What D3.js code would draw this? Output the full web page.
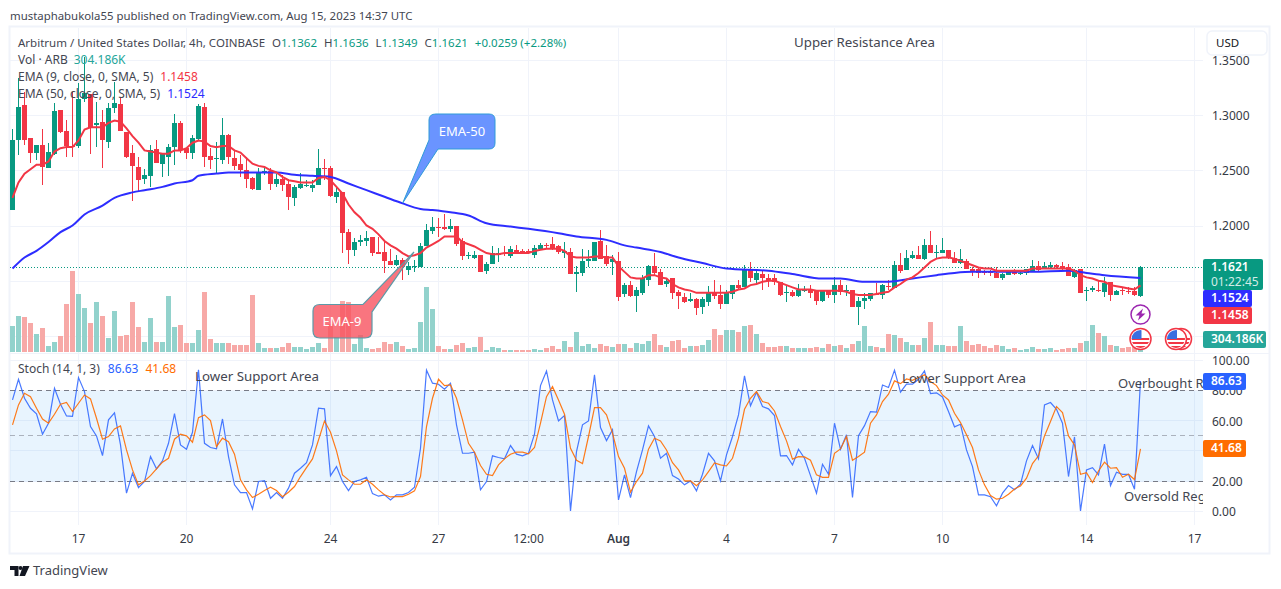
<!DOCTYPE html>
<html>
<head>
<meta charset="utf-8">
<script src="https://cdnjs.cloudflare.com/ajax/libs/d3/7.8.5/d3.min.js"></script>
<style>
  html, body { margin: 0; padding: 0; background: #fff; }
  svg { display: block; }
  text { font-family: "Noto Sans", sans-serif; font-size: 12px; fill: #434651; }
  .axis path, .axis line { display: none; }
  .axis text { fill: #363a45; font-size: 12px; }
</style>
</head>
<body>
<div id="chart"></div>
<script>
// candles, one entry per 4h bar
var open = [
  1.214,1.277,1.309,1.279,1.266,1.273,1.252,1.265,1.305,1.286,
  1.272,1.272,1.315,1.319,1.291,1.294,1.276,1.306,1.310,1.285,
  1.266,1.253,1.242,1.245,1.269,1.256,1.262,1.271,1.293,1.270,
  1.266,1.278,1.307,1.263,1.260,1.259,1.282,1.261,1.256,1.250,
  1.243,1.232,1.248,1.249,1.238,1.242,1.238,1.225,1.234,1.236,
  1.234,1.237,1.252,1.252,1.226,1.230,1.194,1.178,1.185,1.186,
  1.190,1.176,1.176,1.168,1.164,1.169,1.160,1.162,1.162,1.181,
  1.195,1.199,1.199,1.197,1.200,1.186,1.172,1.171,1.173,1.159,
  1.165,1.173,1.175,1.172,1.178,1.177,1.177,1.173,1.179,1.182,
  1.183,1.181,1.175,1.176,1.156,1.157,1.168,1.168,1.186,1.172,
  1.167,1.168,1.138,1.146,1.136,1.139,1.151,1.163,1.158,1.147,
  1.152,1.140,1.135,1.132,1.133,1.126,1.131,1.140,1.137,1.129,
  1.138,1.146,1.144,1.160,1.151,1.156,1.152,1.152,1.149,1.139,
  1.140,1.136,1.141,1.142,1.141,1.132,1.141,1.137,1.146,1.141,
  1.142,1.126,1.132,1.133,1.138,1.137,1.145,1.143,1.164,1.160,
  1.171,1.173,1.170,1.182,1.175,1.175,1.178,1.171,1.166,1.168,
  1.161,1.161,1.158,1.158,1.157,1.152,1.155,1.159,1.156,1.157,
  1.159,1.163,1.161,1.162,1.164,1.163,1.162,1.153,1.161,1.141,
  1.142,1.142,1.140,1.149,1.137,1.142,1.141,1.141,1.1362];
var high = [
  1.287,1.334,1.321,1.279,1.273,1.287,1.275,1.311,1.305,1.296,
  1.321,1.329,1.353,1.319,1.312,1.305,1.311,1.330,1.316,1.285,
  1.273,1.262,1.251,1.273,1.277,1.265,1.274,1.301,1.295,1.270,
  1.282,1.310,1.311,1.270,1.276,1.297,1.283,1.268,1.264,1.262,
  1.244,1.252,1.253,1.252,1.247,1.246,1.242,1.237,1.248,1.241,
  1.241,1.269,1.260,1.254,1.234,1.230,1.197,1.189,1.191,1.195,
  1.190,1.190,1.187,1.179,1.173,1.171,1.167,1.169,1.184,1.201,
  1.208,1.207,1.210,1.206,1.200,1.189,1.176,1.177,1.173,1.167,
  1.181,1.180,1.181,1.181,1.182,1.179,1.179,1.182,1.184,1.184,
  1.190,1.182,1.185,1.180,1.163,1.179,1.178,1.185,1.196,1.182,
  1.173,1.176,1.148,1.150,1.144,1.155,1.164,1.175,1.161,1.152,
  1.152,1.142,1.139,1.139,1.134,1.135,1.145,1.151,1.146,1.142,
  1.146,1.151,1.164,1.167,1.159,1.160,1.156,1.156,1.149,1.146,
  1.142,1.147,1.145,1.146,1.142,1.142,1.142,1.153,1.151,1.146,
  1.142,1.135,1.139,1.139,1.148,1.147,1.151,1.168,1.175,1.178,
  1.177,1.181,1.188,1.195,1.182,1.189,1.178,1.176,1.179,1.170,
  1.162,1.162,1.160,1.160,1.162,1.157,1.159,1.161,1.159,1.161,
  1.169,1.168,1.167,1.167,1.165,1.167,1.165,1.161,1.161,1.144,
  1.145,1.150,1.153,1.149,1.142,1.144,1.144,1.144,1.1636];
var low = [
  1.214,1.264,1.273,1.257,1.259,1.237,1.252,1.264,1.284,1.262,
  1.262,1.270,1.312,1.265,1.271,1.252,1.270,1.302,1.286,1.261,
  1.222,1.230,1.238,1.235,1.257,1.244,1.245,1.255,1.266,1.260,
  1.260,1.277,1.253,1.251,1.248,1.256,1.256,1.250,1.244,1.234,
  1.232,1.232,1.246,1.232,1.235,1.231,1.214,1.218,1.233,1.235,
  1.230,1.237,1.241,1.226,1.220,1.175,1.165,1.172,1.181,1.181,
  1.172,1.174,1.157,1.164,1.163,1.151,1.155,1.158,1.162,1.181,
  1.192,1.190,1.196,1.194,1.181,1.169,1.170,1.170,1.158,1.156,
  1.165,1.167,1.172,1.171,1.175,1.174,1.174,1.171,1.178,1.179,
  1.178,1.174,1.171,1.156,1.140,1.154,1.162,1.168,1.170,1.163,
  1.155,1.132,1.135,1.135,1.122,1.137,1.145,1.155,1.146,1.144,
  1.133,1.124,1.130,1.131,1.119,1.120,1.127,1.133,1.124,1.129,
  1.133,1.142,1.144,1.149,1.147,1.142,1.144,1.146,1.136,1.131,
  1.135,1.135,1.140,1.134,1.128,1.131,1.134,1.130,1.137,1.136,
  1.126,1.110,1.124,1.132,1.137,1.133,1.142,1.143,1.157,1.160,
  1.170,1.170,1.169,1.175,1.171,1.175,1.170,1.166,1.165,1.161,
  1.154,1.152,1.155,1.154,1.152,1.151,1.155,1.155,1.155,1.155,
  1.159,1.159,1.161,1.161,1.161,1.159,1.154,1.152,1.139,1.132,
  1.140,1.140,1.135,1.132,1.137,1.137,1.138,1.136,1.1349];
var close = [
  1.277,1.307,1.277,1.266,1.273,1.253,1.267,1.304,1.285,1.272,
  1.271,1.315,1.320,1.289,1.293,1.277,1.306,1.311,1.286,1.262,
  1.254,1.241,1.246,1.268,1.257,1.265,1.271,1.293,1.268,1.266,
  1.279,1.308,1.262,1.259,1.261,1.282,1.262,1.254,1.250,1.242,
  1.233,1.248,1.249,1.238,1.242,1.237,1.226,1.235,1.238,1.237,
  1.237,1.252,1.251,1.227,1.230,1.193,1.178,1.185,1.187,1.189,
  1.175,1.174,1.168,1.164,1.169,1.162,1.163,1.163,1.181,1.196,
  1.199,1.198,1.197,1.200,1.183,1.172,1.173,1.173,1.158,1.165,
  1.175,1.175,1.174,1.179,1.175,1.175,1.175,1.180,1.182,1.181,
  1.179,1.176,1.177,1.156,1.158,1.168,1.170,1.185,1.170,1.165,
  1.170,1.135,1.146,1.136,1.142,1.152,1.163,1.157,1.146,1.150,
  1.139,1.136,1.131,1.133,1.125,1.133,1.140,1.136,1.129,1.139,
  1.146,1.143,1.161,1.152,1.157,1.152,1.150,1.149,1.137,1.140,
  1.136,1.142,1.142,1.139,1.132,1.141,1.137,1.146,1.140,1.142,
  1.126,1.132,1.134,1.139,1.137,1.146,1.144,1.164,1.159,1.171,
  1.173,1.170,1.182,1.175,1.176,1.178,1.171,1.166,1.170,1.161,
  1.159,1.157,1.157,1.157,1.152,1.156,1.159,1.156,1.157,1.161,
  1.163,1.160,1.163,1.164,1.162,1.161,1.154,1.160,1.139,1.142,
  1.143,1.141,1.148,1.137,1.141,1.141,1.140,1.137,1.1621];

// volume in thousands
var volume = [
  608,842,819,679,421,562,140,234,374,1123,
  1895,1357,1030,679,1170,842,328,959,374,398,
  1170,585,234,796,234,234,1310,585,632,211,
  211,515,1404,304,211,211,211,164,164,164,
  1334,211,94,94,94,117,211,117,117,70,
  117,211,94,655,351,1193,1170,187,398,94,
  70,94,234,187,234,140,70,94,702,1521,
  1006,140,70,70,164,211,94,117,351,47,
  117,94,47,47,47,47,47,70,47,94,
  140,70,257,117,468,140,187,94,187,140,
  117,187,187,94,211,187,257,421,164,117,
  257,281,94,140,140,164,281,538,398,515,
  515,468,608,632,421,211,117,117,140,140,
  94,94,94,94,117,94,187,140,164,94,
  187,257,608,140,117,94,421,398,328,234,
  164,164,328,702,164,164,140,140,608,257,
  164,187,140,94,164,140,70,94,47,70,
  117,70,70,94,47,70,94,94,211,257,
  632,445,374,164,140,94,117,140,304.186];

var ema9 = [
  1.225,1.239,1.247,1.251,1.255,1.255,1.258,1.267,1.270,1.271,
  1.271,1.277,1.287,1.289,1.289,1.289,1.293,1.295,1.294,1.288,
  1.281,1.275,1.268,1.267,1.266,1.265,1.265,1.268,1.268,1.270,
  1.275,1.277,1.276,1.272,1.271,1.272,1.272,1.268,1.266,1.261,
  1.256,1.254,1.253,1.250,1.248,1.244,1.241,1.240,1.239,1.239,
  1.239,1.243,1.244,1.241,1.235,1.229,1.219,1.212,1.207,1.200,
  1.197,1.192,1.186,1.182,1.179,1.175,1.172,1.173,1.175,1.180,
  1.183,1.186,1.190,1.190,1.190,1.185,1.183,1.181,1.178,1.175,
  1.174,1.174,1.175,1.175,1.175,1.175,1.175,1.177,1.178,1.179,
  1.179,1.179,1.177,1.172,1.171,1.171,1.171,1.172,1.172,1.171,
  1.171,1.163,1.158,1.153,1.152,1.152,1.155,1.155,1.153,1.152,
  1.147,1.144,1.142,1.141,1.139,1.139,1.139,1.139,1.139,1.139,
  1.140,1.142,1.143,1.146,1.147,1.149,1.150,1.150,1.148,1.146,
  1.144,1.142,1.142,1.142,1.141,1.141,1.141,1.141,1.141,1.140,
  1.138,1.137,1.137,1.137,1.138,1.139,1.140,1.144,1.147,1.151,
  1.153,1.157,1.162,1.167,1.170,1.171,1.171,1.170,1.168,1.166,
  1.164,1.162,1.161,1.161,1.159,1.159,1.159,1.159,1.159,1.159,
  1.161,1.161,1.161,1.161,1.161,1.161,1.161,1.159,1.155,1.153,
  1.152,1.150,1.149,1.146,1.145,1.144,1.143,1.142,1.1458];

// the slow EMA is smooth, read at these bars only
var ema50Bars = [0,2,4,6,8,10,12,15,17,20,22,25,27,30,31,34,36,40,44,47,50,53,56,59,62,65,68,70,73,76,79,83,86,91,94,99,102,104,108,111,115,119,126,130,135,138,142,146,150,154,157,160,170,176,179,182,188];
var ema50 = [1.161,1.171,1.177,1.185,1.194,1.200,1.210,1.218,1.225,1.230,1.232,1.235,1.238,1.241,1.245,1.247,1.248,1.248,1.248,1.246,1.245,1.244,1.238,1.232,1.226,1.220,1.215,1.214,1.212,1.209,1.202,1.199,1.197,1.193,1.190,1.187,1.182,1.180,1.176,1.171,1.166,1.161,1.159,1.156,1.152,1.152,1.149,1.149,1.152,1.155,1.157,1.158,1.158,1.159,1.157,1.155,1.1524];

var stochK = [
  74.1,87.8,75.2,68.6,64.9,51.4,58.7,81.8,71.3,63.5,
  63.3,88.9,79.6,56.5,50.3,37.3,60.9,65.5,44.3,12.4,
  25.6,16.1,20.1,36.6,28.5,33.8,45.4,65.1,44.3,41.5,
  52.7,94.0,45.4,42.6,41.7,61.5,36.6,17.9,12.8,12.8,
  2.0,20.1,20.7,9.0,12.8,9.0,15.7,25.6,28.9,32.6,
  44.3,68.6,68.2,24.0,30.0,20.1,14.1,20.1,21.2,22.9,
  12.1,10.4,11.3,7.9,11.3,11.3,12.8,16.3,42.1,93.8,
  85.2,84.5,81.2,85.2,57.6,38.8,38.8,39.5,14.6,20.1,
  37.1,36.0,35.1,43.9,38.2,37.1,38.8,51.4,83.6,93.3,
  74.1,60.2,63.8,0.7,39.9,57.6,60.2,90.7,55.8,47.2,
  54.3,7.9,24.5,9.5,26.7,41.0,56.9,49.9,35.5,38.8,
  24.0,21.8,17.9,20.5,13.9,24.9,38.8,33.8,20.5,37.7,
  49.9,64.2,90.0,70.2,79.2,69.7,68.2,63.8,37.1,37.3,
  31.1,41.5,35.5,24.0,12.4,31.5,24.9,58.7,41.5,51.0,
  9.5,50.5,57.1,66.4,66.0,84.0,82.3,93.8,79.2,84.5,
  84.5,87.8,93.3,78.3,78.8,76.1,66.4,56.3,58.0,41.0,
  30.0,11.3,11.3,10.1,4.0,12.4,17.4,14.6,18.3,33.8,
  43.9,35.1,70.8,72.4,67.9,58.7,23.4,49.6,0.7,27.8,
  29.3,24.5,44.8,17.4,26.3,24.9,24.9,15.0,86.63];
var stochD = [
  57.6,70.8,78.5,76.3,68.6,61.5,58.7,64.6,71.3,72.4,
  66.4,71.9,77.4,74.8,62.0,48.1,49.9,54.9,56.9,41.0,
  27.8,17.9,20.5,24.0,28.5,32.9,35.5,48.1,51.4,50.3,
  46.1,62.4,64.2,60.4,43.2,48.8,46.5,38.2,21.2,14.6,
  9.5,11.7,14.1,16.3,14.1,10.1,13.0,16.8,23.4,29.3,
  35.1,47.6,60.2,52.7,40.4,24.5,21.2,18.3,18.3,21.2,
  18.3,14.6,11.3,9.9,10.1,10.1,11.7,13.9,23.4,56.5,
  75.2,87.8,83.6,84.0,75.2,60.9,45.4,39.5,30.7,24.9,
  24.0,31.1,35.1,38.2,39.5,39.5,38.4,42.6,58.7,76.3,
  82.9,74.1,64.6,42.1,34.2,32.0,49.9,69.0,69.0,64.2,
  52.1,36.6,28.9,13.0,20.1,25.6,41.5,48.8,47.0,41.0,
  32.6,27.8,20.5,20.5,17.4,21.2,26.7,32.4,31.1,30.4,
  35.5,48.8,67.9,75.2,79.6,73.0,71.9,66.8,56.5,47.0,
  34.9,36.6,36.4,34.2,24.5,22.9,22.9,38.8,41.7,49.9,
  34.2,36.6,39.5,58.7,64.2,73.0,77.9,86.7,84.9,88.0,
  87.1,88.9,90.7,86.3,83.6,77.4,74.1,65.3,59.1,51.0,
  42.6,27.8,17.9,10.8,8.4,9.0,11.7,15.2,17.2,22.3,
  32.0,37.1,50.3,59.8,69.7,65.7,50.3,44.3,24.9,26.0,
  19.4,27.1,32.9,28.9,29.3,22.9,24.9,21.4,41.68];

// bar index of each time label
var timeBars = [11,29,53,71,86,101,119,137,155,179,197];
var timeLabels = ["17","20","24","27","12:00","Aug","4","7","10","14","17"];

// grid lines; the 1.15, 1.10 and 40 labels sit behind the value tags so they are not written
var priceGrid = [1.35,1.30,1.25,1.20,1.15,1.10];
var priceLabels = [1.35,1.30,1.25,1.20];
var stochGrid = [100,80,60,40,20,0];
var stochLabels = [100,80,60,20,0];

var GREEN = "#089981", RED = "#f23645", BLUE = "#2d2dff";
var W = 1281, H = 589;
var paneL = 10, paneR = 1203;

var svg = d3.select("#chart").append("svg").attr("width", W).attr("height", H);

// scales
var x = d3.scaleLinear().domain([0, 188]).range([12.5, 1140.5]);
var y = d3.scaleLinear().domain([1.10, 1.35]).range([335.9, 59.9]);
var yVol = d3.scaleLinear().domain([0, 2340]).range([352, 252]);
var yStoch = d3.scaleLinear().domain([0, 100]).range([511.9, 360.8]);

var defs = svg.append("defs");
defs.append("clipPath").attr("id", "mainClip").append("rect")
    .attr("x", paneL).attr("y", 28).attr("width", paneR - paneL).attr("height", 325);
defs.append("clipPath").attr("id", "stochClip").append("rect")
    .attr("x", paneL).attr("y", 354).attr("width", paneR - paneL).attr("height", 171);
defs.append("clipPath").attr("id", "flagClip").append("circle").attr("r", 9);

// frame
svg.append("rect").attr("x", 9.5).attr("y", 26.5).attr("width", 1260).attr("height", 527)
    .attr("fill", "none").attr("stroke", "#f0f3fa").attr("stroke-width", 2);
svg.append("line").attr("x1", paneL).attr("x2", 1269).attr("y1", 353.5).attr("y2", 353.5)
    .attr("stroke", "#f0f3fa").attr("stroke-width", 1);

// grid
var grid = svg.append("g").attr("stroke", "#f0f3fa").attr("stroke-width", 1);
grid.selectAll(".v").data(timeBars).enter().append("line")
    .attr("class", "v")
    .attr("x1", function(d) { return Math.floor(x(d)) + 0.5; })
    .attr("x2", function(d) { return Math.floor(x(d)) + 0.5; })
    .attr("y1", 28).attr("y2", 525);
grid.selectAll(".hp").data(priceGrid).enter().append("line")
    .attr("class", "hp")
    .attr("x1", paneL).attr("x2", paneR)
    .attr("y1", function(d) { return Math.round(y(d)) + 0.5; })
    .attr("y2", function(d) { return Math.round(y(d)) + 0.5; });
grid.selectAll(".hs").data(stochGrid).enter().append("line")
    .attr("class", "hs")
    .attr("x1", paneL).attr("x2", paneR)
    .attr("y1", function(d) { return Math.round(yStoch(d)) - 0.5; })
    .attr("y2", function(d) { return Math.round(yStoch(d)) - 0.5; });

// main pane
var main = svg.append("g").attr("clip-path", "url(#mainClip)");
var bars = d3.range(open.length);

main.selectAll(".vol").data(bars).enter().append("rect")
    .attr("class", "vol")
    .attr("x", function(i) { return x(i) - 2.5; })
    .attr("width", 5)
    .attr("y", function(i) { return Math.round(yVol(volume[i])); })
    .attr("height", function(i) { return 352 - Math.round(yVol(volume[i])); })
    .attr("fill", function(i) { return close[i] >= open[i] ? "#92d2cc" : "#f7a9a7"; });

main.append("line")
    .attr("x1", paneL).attr("x2", paneR)
    .attr("y1", Math.round(y(close[188])) + 0.5).attr("y2", Math.round(y(close[188])) + 0.5)
    .attr("stroke", GREEN).attr("stroke-dasharray", "1 2");

main.selectAll(".wick").data(bars).enter().append("rect")
    .attr("class", "wick")
    .attr("x", function(i) { return x(i) - 0.5; })
    .attr("width", 1)
    .attr("y", function(i) { return Math.round(y(high[i])); })
    .attr("height", function(i) { return Math.max(1, Math.round(y(low[i])) - Math.round(y(high[i]))); })
    .attr("fill", function(i) { return close[i] >= open[i] ? GREEN : RED; });

main.selectAll(".body").data(bars).enter().append("rect")
    .attr("class", "body")
    .attr("x", function(i) { return x(i) - 2.5; })
    .attr("width", 5)
    .attr("y", function(i) { return Math.round(y(Math.max(open[i], close[i]))); })
    .attr("height", function(i) {
        return Math.max(1, Math.round(y(Math.min(open[i], close[i]))) - Math.round(y(Math.max(open[i], close[i]))));
    })
    .attr("fill", function(i) { return close[i] >= open[i] ? GREEN : RED; });

var emaLine = d3.line().x(function(d) { return x(d[0]); }).y(function(d) { return y(d[1]); });
main.append("path")
    .attr("d", emaLine.curve(d3.curveMonotoneX)(ema50.map(function(v, k) { return [ema50Bars[k], v]; })))
    .attr("fill", "none").attr("stroke", BLUE).attr("stroke-width", 2);
main.append("path")
    .attr("d", emaLine.curve(d3.curveLinear)(ema9.map(function(v, k) { return [k, v]; })))
    .attr("fill", "none").attr("stroke", RED).attr("stroke-width", 2);

// stochastic pane
var stoch = svg.append("g").attr("clip-path", "url(#stochClip)");
stoch.append("rect")
    .attr("x", paneL).attr("width", paneR - paneL)
    .attr("y", yStoch(80)).attr("height", yStoch(20) - yStoch(80))
    .attr("fill", "#2196f3").attr("fill-opacity", 0.1);
stoch.selectAll(".band").data([80, 50, 20]).enter().append("line")
    .attr("class", "band")
    .attr("x1", paneL).attr("x2", paneR)
    .attr("y1", function(d) { return Math.round(yStoch(d)) - 0.5; })
    .attr("y2", function(d) { return Math.round(yStoch(d)) - 0.5; })
    .attr("stroke", "#787b86")
    .attr("stroke-opacity", function(d) { return d == 50 ? 0.55 : 1; })
    .attr("stroke-dasharray", "5 4");

var stochLine = d3.line().x(function(d, k) { return x(k); }).y(function(d) { return yStoch(d); });
stoch.append("path").attr("d", stochLine(stochK))
    .attr("fill", "none").attr("stroke", "#2962ff").attr("stroke-opacity", 0.85).attr("stroke-width", 1.2);
stoch.append("path").attr("d", stochLine(stochD))
    .attr("fill", "none").attr("stroke", "#ff6d00").attr("stroke-opacity", 0.9).attr("stroke-width", 1.2);

// axes
svg.append("g").attr("class", "axis")
    .attr("transform", "translate(1203,0.5)")
    .call(d3.axisRight(y).tickValues(priceLabels).tickSize(0).tickPadding(9).tickFormat(d3.format(".4f")));
svg.append("g").attr("class", "axis")
    .attr("transform", "translate(1203,0)")
    .call(d3.axisRight(yStoch).tickValues(stochLabels).tickSize(0).tickPadding(9).tickFormat(d3.format(".2f")));
var timeAxis = svg.append("g").attr("class", "axis")
    .attr("transform", "translate(-0.5,529.5)")
    .call(d3.axisBottom(x).tickValues(timeBars).tickSize(0).tickPadding(5)
        .tickFormat(function(d, k) { return timeLabels[k]; }));
timeAxis.selectAll("text").style("font-weight", function(d, k) { return timeLabels[k] == "Aug" ? 600 : null; });

// header and legend
function label(parent, px, py, parts, size) {
    var t = parent.append("text").attr("x", px).attr("y", py + 1.5).attr("dominant-baseline", "middle");
    if (size) t.style("font-size", size + "px");
    parts.forEach(function(p) {
        t.append("tspan").attr("dx", p[2] || 0).style("fill", p[1]).text(p[0]);
    });
    return t;
}
var ink = "#434651";
label(svg, 10, 15, [["mustaphabukola55 published on TradingView.com, Aug 15, 2023 14:37 UTC", ink]], 11.4);
label(svg, 18, 42, [
    ["Arbitrum / United States Dollar, 4h, COINBASE", ink],
    ["O", ink, 7], ["1.1362", GREEN], ["H", ink, 7], ["1.1636", GREEN],
    ["L", ink, 7], ["1.1349", GREEN], ["C", ink, 7], ["1.1621", GREEN],
    ["+0.0259 (+2.28%)", GREEN, 7]], 11.5);
label(svg, 18, 59, [["Vol · ARB", ink], ["304.186K", "#26a69a", 6]]);
label(svg, 18, 76, [["EMA (9, close, 0, SMA, 5)", ink], ["1.1458", RED, 7]]);
label(svg, 18, 93, [["EMA (50, close, 0, SMA, 5)", ink], ["1.1524", BLUE, 7]]);
label(svg, 18, 368, [["Stoch (14, 1, 3)", ink], ["86.63", "#2962ff", 8], ["41.68", "#ff6d00", 7]]);

// notes written on the chart
label(svg, 794, 41, [["Upper Resistance Area", ink]], 13.3);
label(svg, 195, 375, [["Lower Support Area", ink]], 13.3);
label(svg, 902, 377, [["Lower Support Area", ink]], 13.3);
var notes = svg.append("g").attr("clip-path", "url(#stochClip)");
label(notes, 1118, 383, [["Overbought Region", ink]], 13);
label(notes, 1124, 496, [["Oversold Region", ink]], 13);

// callouts
svg.append("path")
    .attr("d", "M436 114H489Q495 114 495 120V143Q495 149 489 149H438L402.7 203L429 140V120Q429 114 436 114Z")
    .attr("fill", "#6a94ff").attr("stroke", "#2f9bd8");
label(svg, 462, 131, [["EMA-50", "#fff"]], 13).attr("text-anchor", "middle");
svg.append("path")
    .attr("d", "M320 304.5H363L414 252L372 312V331Q372 338 365 338H320Q313 338 313 331V311Q313 304.5 320 304.5Z")
    .attr("fill", "#f7525f").attr("fill-opacity", 0.8).attr("stroke", "#5b9aa8").attr("stroke-width", 1.2);
label(svg, 342, 321, [["EMA-9", "#fff"]], 13).attr("text-anchor", "middle");

// USD button
svg.append("rect").attr("x", 1207).attr("y", 31).attr("width", 60).attr("height", 24).attr("rx", 5)
    .attr("fill", "#fff").attr("stroke", "#f0f3fa").attr("stroke-width", 1.5);
label(svg, 1216, 42, [["USD", "#131722"]], 11.5);

// value tags
function tag(tx, ty, tw, th, fill, txt, sub) {
    svg.append("rect").attr("x", tx).attr("y", ty).attr("width", tw).attr("height", th)
        .attr("rx", 2).attr("fill", fill);
    label(svg, 1211, ty + 7.5, [[txt, "#fff"]]).style("font-weight", 600);
    if (sub) label(svg, 1211, ty + 22.5, [[sub, "#d3ece7"]]);
}
tag(1203, 259, 60, 31, GREEN, "1.1621", "01:22:45");
tag(1203, 290, 49, 17, BLUE, "1.1524");
tag(1203, 307, 49, 17, RED, "1.1458");
tag(1203, 331, 63, 17, "#26a69a", "304.186K");
tag(1203, 373, 43, 17, "#2962ff", "86.63");
tag(1203, 440, 43, 17, "#ff6d00", "41.68");

// event icons
function flag(cx, cy) {
    var g = svg.append("g").attr("transform", "translate(" + cx + "," + cy + ")");
    g.append("circle").attr("r", 10.5).attr("fill", "#fff").attr("stroke", RED).attr("stroke-width", 1.5);
    var f = g.append("g").attr("clip-path", "url(#flagClip)");
    f.selectAll(".s").data([-1, 3, 7]).enter().append("rect")
        .attr("x", -9).attr("width", 18).attr("y", function(d) { return d; }).attr("height", 2).attr("fill", RED);
    f.append("rect").attr("x", -9).attr("y", -9).attr("width", 10).attr("height", 9).attr("fill", "#3b6fe0");
}
flag(1181, 339);
flag(1176, 339);
flag(1140.5, 339);
svg.append("circle").attr("cx", 1140.5).attr("cy", 314.5).attr("r", 9.5)
    .attr("fill", "#fff").attr("stroke", "#9c27b0").attr("stroke-width", 1.5);
svg.append("path").attr("d", "M1143 308.5L1135.5 315.5H1139.5L1138 320.5L1145.5 313.5H1141.5Z").attr("fill", "#9c27b0");

// logo
svg.append("path")
    .attr("d", "M10 566H18.5V576H14.5V570H10ZM23 566H29.5L25 576H19.5Z")
    .attr("fill", "#131722");
svg.append("circle").attr("cx", 20.5).attr("cy", 568).attr("r", 2).attr("fill", "#131722");
label(svg, 33, 570, [["TradingView", "#434651"]], 13);
</script>
</body>
</html>
